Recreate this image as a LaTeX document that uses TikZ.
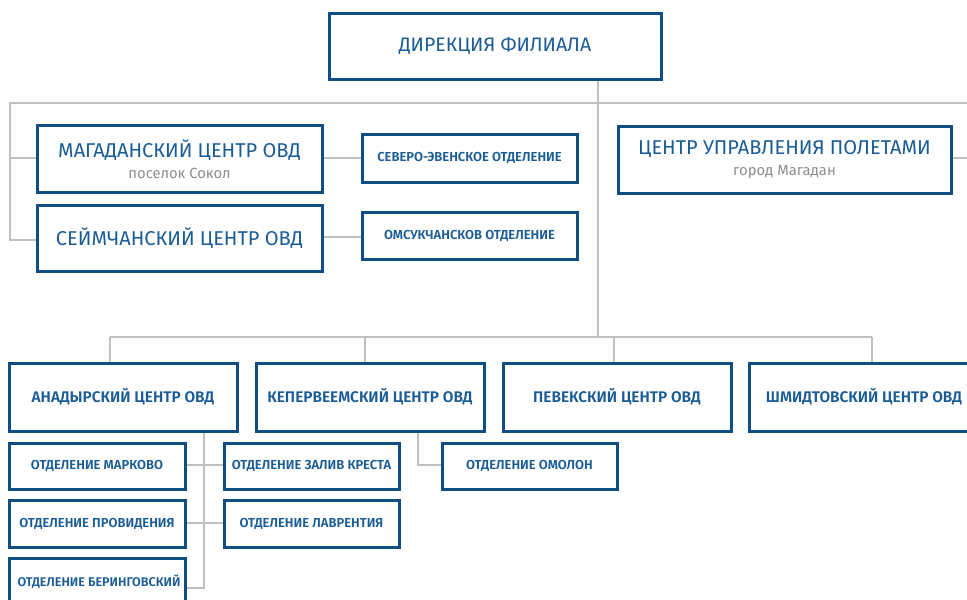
\documentclass[tikz,border=0pt]{standalone}
\usepackage{fontspec}
\setmainfont{Fira Sans}
\newfontfamily\semib{Fira Sans SemiBold}
\definecolor{bord}{HTML}{0E4E84}
\definecolor{txt}{HTML}{1A5C96}
\definecolor{conn}{HTML}{C0C0C0}
\definecolor{subt}{HTML}{8E8E8E}
\tikzset{
  box/.style={draw=bord, line width=3pt, fill=white, rectangle, inner sep=0pt, align=center, text=txt},
  bigbox/.style={box, font=\fontsize{20}{23}\selectfont},
  midbox/.style={box, font=\semib\fontsize{15.4}{18}\selectfont},
  smallbox/.style={box, font=\semib\fontsize{13}{15}\selectfont},
  bare/.style={draw=none, fill=none},
  link/.style={draw=conn, line width=2.4pt},
}
\newcommand{\subline}[1]{\\[-2pt]{\color{subt}\fontsize{14.8}{17}\selectfont #1}}
\begin{document}
\begin{tikzpicture}[x=1pt,y=-1pt]
\useasboundingbox (0,0) rectangle (967,600);
\clip (0,0) rectangle (967,600);
% coordinates
\coordinate (tl) at (10,103);
\coordinate (tr) at (975,103);
\coordinate (jt) at (598,103);
\coordinate (jb) at (598,337);
\coordinate (b1) at (110,337);
\coordinate (b2) at (365,337);
\coordinate (b3) at (614,337);
\coordinate (b4) at (872,337);
\coordinate (av) at (204,588);
\coordinate (kv) at (418,465);
\coordinate (cr) at (975,158);
% connectors first
\draw[link] (tr) -- (tl) -- (tl |- 0,240) -- (37,240);
\draw[link] (tl |- 0,158) -- (37,158);
\draw[link] (598,79) -- (jb);
\draw[link] (b1) -- (b4);
\draw[link] (b1) -- (110,363);
\draw[link] (b2) -- (365,363);
\draw[link] (b3) -- (614,363);
\draw[link] (b4) -- (872,363);
\draw[link] (322,158) -- (362,158);
\draw[link] (322,237) -- (362,237);
\draw[link] (951,158) -- (cr);
\draw[link] (204,431) -- (av) -- (185,588);
\draw[link] (185,465) -- (224,465);
\draw[link] (185,523) -- (224,523);
\draw[link] (418,431) -- (kv) -- (442,465);
% nodes
\node[bigbox, minimum width=332, minimum height=66, font=\fontsize{19.5}{22}\selectfont] (dir) at (495,46) {ДИРЕКЦИЯ ФИЛИАЛА};
\node[bigbox, minimum width=285, minimum height=67] (mag) at (179.5,159) {МАГАДАНСКИЙ ЦЕНТР ОВД\subline{поселок Сокол}};
\node[bigbox, minimum width=285, minimum height=66] (sey) at (179.5,238) {СЕЙМЧАНСКИЙ ЦЕНТР ОВД};
\node[smallbox, minimum width=215, minimum height=48] (sev) at (469.5,158) {СЕВЕРО-ЭВЕНСКОЕ ОТДЕЛЕНИЕ};
\node[smallbox, minimum width=215, minimum height=47] (oms) at (469.5,235.5) {ОМСУКЧАНСКОВ ОТДЕЛЕНИЕ};
\node[bigbox, minimum width=333, minimum height=67] (cup) at (784.5,159.5) {ЦЕНТР УПРАВЛЕНИЯ ПОЛЕТАМИ\subline{город Магадан}};
\node[midbox, minimum width=228, minimum height=68] (ana) at (123,397) {АНАДЫРСКИЙ ЦЕНТР ОВД};
\node[midbox, minimum width=228, minimum height=68] (kep) at (370,397) {КЕПЕРВЕЕМСКИЙ ЦЕНТР ОВД};
\node[midbox, minimum width=228, minimum height=68] (pev) at (617,397) {ПЕВЕКСКИЙ ЦЕНТР ОВД};
\node[midbox, minimum width=228, minimum height=68] (shm) at (863,397) {};
\node[midbox, bare] (shmt) at (864,397) {ШМИДТОВСКИЙ ЦЕНТР ОВД};
\node[smallbox, minimum width=176, minimum height=46] (mar) at (97,466) {ОТДЕЛЕНИЕ МАРКОВО};
\node[smallbox, minimum width=175, minimum height=46] (zal) at (311.5,466) {ОТДЕЛЕНИЕ ЗАЛИВ КРЕСТА};
\node[smallbox, minimum width=176, minimum height=47] (pro) at (97,523.5) {ОТДЕЛЕНИЕ ПРОВИДЕНИЯ};
\node[smallbox, minimum width=175, minimum height=47] (lav) at (311.5,523.5) {ОТДЕЛЕНИЕ ЛАВРЕНТИЯ};
\node[smallbox, minimum width=176, minimum height=48] (ber) at (97,582) {};
\node[smallbox, bare, font=\semib\fontsize{12.6}{15}\selectfont] (bert) at (99,582) {ОТДЕЛЕНИЕ БЕРИНГОВСКИЙ};
\node[smallbox, minimum width=175, minimum height=46] (omo) at (529.5,466) {ОТДЕЛЕНИЕ ОМОЛОН};
\end{tikzpicture}
\end{document}
